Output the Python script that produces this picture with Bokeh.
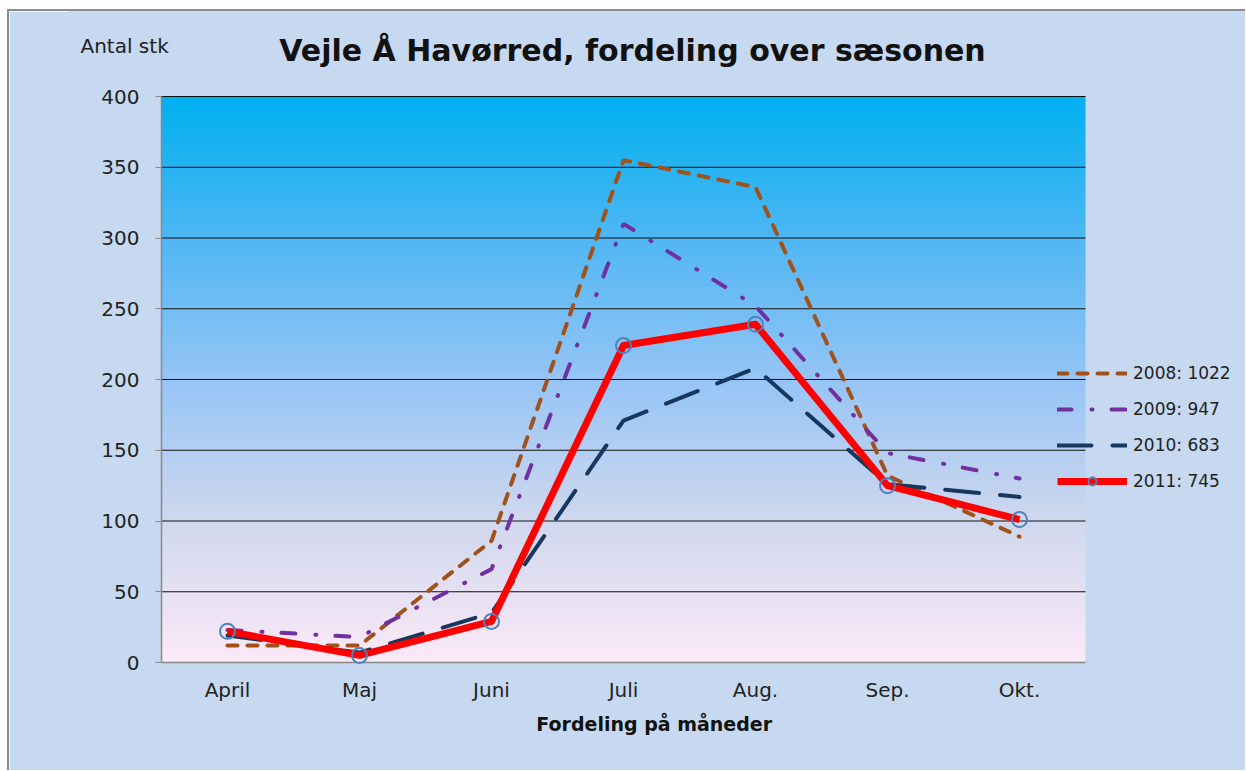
import numpy as np
from bokeh.plotting import figure
from bokeh.models import Range1d, FixedTicker, Legend, LegendItem, Label
from bokeh.embed import file_html
from bokeh.resources import INLINE

# ---- data ----
months = ["April", "Maj", "Juni", "Juli", "Aug.", "Sep.", "Okt."]
y2008 = [12, 12, 86, 355, 336, 132, 89]
y2009 = [23, 18, 66, 310, 252, 148, 130]
y2010 = [19, 7, 35, 171, 208, 126, 117]
y2011 = [22, 5, 29, 224, 239, 125, 101]
series_labels = ["2008: 1022", "2009: 947", "2010: 683", "2011: 745"]
y_ticks = [0, 50, 100, 150, 200, 250, 300, 350, 400]

title_text = "Vejle Å Havørred, fordeling over sæsonen"
y_title = "Antal stk"
x_title = "Fordeling  på måneder"

FONT = "DejaVu Sans"
BG = "#c6d9f0"
N = len(months)
YMAX = 400
xs = [i + 0.5 for i in range(N)]

# layout: plot area spans x in [0, N] and y in [0, YMAX]; the frame is larger so
# that title, y-title and legend (inside the frame) are not clipped
CANVAS_W, CANVAS_H = 1236, 759
BORDER_L, BORDER_B = 60, 100
FRAME_W, FRAME_H = CANVAS_W - BORDER_L, CANVAS_H - BORDER_B
PX_X = 132.0      # px per category
PX_Y = 1.415      # px per unit
LEFT_PAD = 92     # px from frame left to x=0
TOP_PAD = 85      # px from frame top to y=YMAX
BOTTOM_PAD = 8    # px from y=0 to frame bottom
x_start = -LEFT_PAD / PX_X
x_end = x_start + FRAME_W / PX_X
y_start = -BOTTOM_PAD / PX_Y
y_end = y_start + FRAME_H / PX_Y

p = figure(frame_width=FRAME_W, frame_height=FRAME_H,
           x_range=Range1d(x_start, x_end), y_range=Range1d(y_start, y_end),
           output_backend="svg", toolbar_location=None, title_location=None,
           min_border_left=BORDER_L, min_border_right=0, min_border_top=0,
           min_border_bottom=BORDER_B)
p.styles = {"border-left": "2px solid #8c8c8c", "border-top": "2px solid #8c8c8c",
            "margin-left": "7px", "margin-top": "9px"}
p.border_fill_color = BG
p.background_fill_color = BG
p.outline_line_color = BG
p.outline_line_width = 2

# gradient background of the plot area (decoration)
stops_t = [0.0, 0.25, 0.5, 0.75, 1.0]
stops_c = [(252, 234, 248), (208, 216, 238), (150, 197, 246), (80, 183, 244), (0, 176, 240)]
H = 400
t = np.linspace(0, 1, H)
rgb = np.stack([np.interp(t, stops_t, [c[k] for c in stops_c]) for k in range(3)], axis=1).astype(np.uint8)
img = np.zeros((H, 2), dtype=np.uint32)
view = img.view(dtype=np.uint8).reshape((H, 2, 4))
for j in range(2):
    view[:, j, 0] = rgb[:, 0]
    view[:, j, 1] = rgb[:, 1]
    view[:, j, 2] = rgb[:, 2]
    view[:, j, 3] = 255
p.image_rgba(image=[img], x=0, y=0, dw=N, dh=YMAX, level="image")

# grid lines limited to the plot area (y=0 is the gray category axis line)
p.grid.grid_line_color = None
grid_vals = [v for v in y_ticks if v > 0]
p.segment(x0=[0] * len(grid_vals), y0=grid_vals, x1=[N] * len(grid_vals), y1=grid_vals,
          line_color="#111111", line_width=1)
p.segment(x0=[0], y0=[y_ticks[0]], x1=[N], y1=[y_ticks[0]], line_color="#888888", line_width=1.5)

# axes
yax = p.yaxis[0]
yax.fixed_location = 0
yax.bounds = (0, YMAX)
yax.ticker = FixedTicker(ticks=y_ticks)
yax.axis_line_color = "#888888"
yax.axis_line_width = 1.5
yax.major_tick_line_color = "#888888"
yax.major_tick_out = 6
yax.major_tick_in = 0
yax.minor_tick_line_color = None
yax.major_label_text_font = FONT
yax.major_label_text_font_size = "20px"
yax.major_label_text_color = "#222222"
yax.major_label_standoff = 16

xax = p.xaxis[0]
xax.ticker = FixedTicker(ticks=xs)
xax.major_label_overrides = {x: m for x, m in zip(xs, months)}
xax.axis_line_color = None
xax.major_tick_line_color = None
xax.minor_tick_line_color = None
xax.major_label_text_font = FONT
xax.major_label_text_font_size = "20px"
xax.major_label_text_color = "#222222"
xax.major_label_standoff = 1
xax.axis_label = x_title
xax.axis_label_text_font = FONT
xax.axis_label_text_font_style = "bold"
xax.axis_label_text_font_size = "19px"
xax.axis_label_text_color = "#111111"
xax.axis_label_standoff = 8

# series
r08 = p.line(xs, y2008, line_color="#a0521a", line_width=4, line_dash="10 10", line_cap="round")
r09 = p.line(xs, y2009, line_color="#7030a0", line_width=4, line_dash="14 20 1 19", line_cap="round")
r10 = p.line(xs, y2010, line_color="#17375e", line_width=4, line_dash="34 21", line_cap="round")
r11 = p.line(xs, y2011, line_color="#ff0000", line_width=7, line_join="round")
c11 = p.scatter(xs, y2011, marker="circle", size=15, fill_color=None,
                line_color="#4f81bd", line_width=2)

legend = Legend(items=[
    LegendItem(label=series_labels[0], renderers=[r08]),
    LegendItem(label=series_labels[1], renderers=[r09]),
    LegendItem(label=series_labels[2], renderers=[r10]),
    LegendItem(label=series_labels[3], renderers=[r11, c11]),
], location=(LEFT_PAD + 896, BOTTOM_PAD + 171))
legend.background_fill_alpha = 0
legend.border_line_color = None
legend.padding = 0
legend.margin = 0
legend.glyph_width = 70
legend.glyph_height = 20
legend.label_height = 20
legend.spacing = 16
legend.label_standoff = 6
legend.label_text_font = FONT
legend.label_text_font_size = "17px"
legend.label_text_color = "#222222"
p.add_layout(legend, "center")

# titles
p.add_layout(Label(x=(632 - 161) / PX_X, y=(662 - 50) / PX_Y, text=title_text, text_font=FONT,
                   text_font_style="bold", text_font_size="30px", text_align="center",
                   text_baseline="middle", text_color="#111111"))
p.add_layout(Label(x=(80 - 161) / PX_X, y=(662 - 45) / PX_Y, text=y_title, text_font=FONT,
                   text_font_size="20px", text_align="left", text_baseline="middle",
                   text_color="#222222"))

open("out.html", "w").write(file_html(p, INLINE))
